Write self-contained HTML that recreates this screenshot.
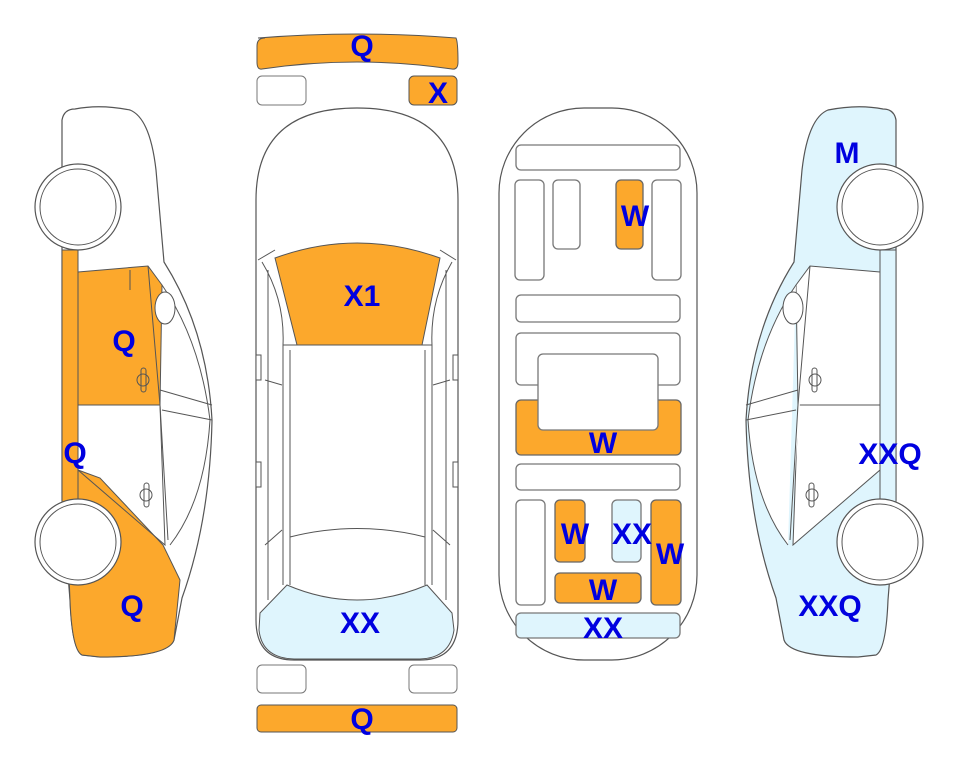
<!DOCTYPE html>
<html><head><meta charset="utf-8"><style>
html,body{margin:0;padding:0;background:#fff;}
svg{display:block;}
text{font-family:"Liberation Sans",Arial,sans-serif;font-weight:bold;font-size:30px;fill:#0000e0;text-anchor:middle;}
</style></head><body>
<svg width="963" height="768" viewBox="0 0 963 768" xmlns="http://www.w3.org/2000/svg">
<defs>
<g id="side">
  <path d="M75,109 Q100,104 130,110 Q150,118 156,170 L164,262 Q207,330 212,420 Q210,520 182,598 L174,640 Q168,657 100,657 L82,655 Q72,650 70,600 L62,500 L62,120 Q64,109 75,109 Z" fill="var(--body)" stroke="#555" stroke-width="1.2"/>
</g>
</defs>

<!-- LEFT CAR -->
<path d="M75,109 Q100,104 130,110 Q150,118 156,170 L164,262 Q207,330 212,420 Q210,520 182,598 L174,640 Q168,657 100,657 L82,655 Q72,650 70,600 L62,500 L62,120 Q64,109 75,109 Z" fill="#fff" stroke="#555" stroke-width="1.2"/>
<rect x="62" y="250" width="16" height="252" fill="#fca82c" stroke="#555" stroke-width="1"/>
<path d="M78,272 L148,266 L162,285 L160,405 L78,405 Z" fill="#fca82c" stroke="#555" stroke-width="1"/>
<path d="M78,470 L100,478 L163,545 L180,580 L174,640 Q168,657 100,657 L82,655 Q72,650 70,600 L66,502 L78,502 Z" fill="#fca82c" stroke="#555" stroke-width="1"/>
<path d="M78,405 L78,470 L165,545 L160,405" fill="none" stroke="#555" stroke-width="1"/>
<path d="M148,266 L160,405 L168,540 M162,285 Q200,340 210,420 Q205,500 170,545" fill="none" stroke="#555" stroke-width="1"/>
<path d="M160,390 L212,405 M162,410 L212,420 M130,290 L130,270" fill="none" stroke="#555" stroke-width="1"/>
<ellipse cx="165" cy="308" rx="10" ry="16" fill="#fff" stroke="#555"/>
<rect x="141" y="368" width="5" height="24" rx="2.5" fill="none" stroke="#555"/><circle cx="143" cy="380" r="6" fill="none" stroke="#555"/>
<rect x="144" y="483" width="5" height="24" rx="2.5" fill="none" stroke="#555"/><circle cx="146" cy="495" r="6" fill="none" stroke="#555"/>
<circle cx="78" cy="207" r="43" fill="#fff" stroke="#555" stroke-width="1.2"/>
<circle cx="78" cy="207" r="38" fill="none" stroke="#555" stroke-width="1"/>
<circle cx="78" cy="542" r="43" fill="#fff" stroke="#555" stroke-width="1.2"/>
<circle cx="78" cy="542" r="38" fill="none" stroke="#555" stroke-width="1"/>
<text x="124" y="351">Q</text><text x="75" y="463">Q</text><text x="132" y="616">Q</text>

<!-- RIGHT CAR (mirror) -->
<g transform="translate(958,0) scale(-1,1)">
<path d="M75,109 Q100,104 130,110 Q150,118 156,170 L164,262 Q207,330 212,420 Q210,520 182,598 L174,640 Q168,657 100,657 L82,655 Q72,650 70,600 L62,500 L62,120 Q64,109 75,109 Z" fill="#dff5fd" stroke="#555" stroke-width="1.2"/>
<rect x="62" y="250" width="16" height="252" fill="#dff5fd" stroke="#555" stroke-width="1"/>
<path d="M78,272 L148,266 L162,285 L160,405 L78,405 Z" fill="#fff" stroke="#555" stroke-width="1"/>
<path d="M78,405 L78,470 L165,545 L160,405 Z" fill="#fff" stroke="#555" stroke-width="1"/>
<path d="M148,266 L160,405 L168,540 M162,285 Q200,340 210,420 Q205,500 170,545" fill="#fff" stroke="#555" stroke-width="1"/>
<path d="M160,390 L212,405 M162,410 L212,420" fill="none" stroke="#555" stroke-width="1"/>
<ellipse cx="165" cy="308" rx="10" ry="16" fill="#fff" stroke="#555"/>
<rect x="141" y="368" width="5" height="24" rx="2.5" fill="none" stroke="#555"/><circle cx="143" cy="380" r="6" fill="none" stroke="#555"/>
<rect x="144" y="483" width="5" height="24" rx="2.5" fill="none" stroke="#555"/><circle cx="146" cy="495" r="6" fill="none" stroke="#555"/>
<circle cx="78" cy="207" r="43" fill="#fff" stroke="#555" stroke-width="1.2"/>
<circle cx="78" cy="207" r="38" fill="none" stroke="#555" stroke-width="1"/>
<circle cx="78" cy="542" r="43" fill="#fff" stroke="#555" stroke-width="1.2"/>
<circle cx="78" cy="542" r="38" fill="none" stroke="#555" stroke-width="1"/>
</g>
<text x="847" y="163">M</text><text x="890" y="464">XXQ</text><text x="830" y="616">XXQ</text>

<!-- TOP VIEW -->
<path d="M258,38 Q357,30 456,38 Q458,42 458,62 Q458,70 452,69 Q357,55 262,69 Q257,70 257,62 L257,46 Q257,38 265,38 Z" fill="#fca82c" stroke="#555"/>
<text x="362" y="56">Q</text>
<rect x="257" y="76" width="49" height="29" rx="5" fill="#fff" stroke="#777"/>
<rect x="409" y="76" width="48" height="29" rx="5" fill="#fca82c" stroke="#555"/>
<text x="438" y="103">X</text>
<path d="M256,620 L256,200 Q256,108 357,108 Q458,108 458,200 L458,620 Q458,660 420,660 L294,660 Q256,660 256,620 Z" fill="#fff" stroke="#555" stroke-width="1.2"/>
<path d="M260,613 L287,585 Q357,615 427,585 L452,613 L454,630 Q450,658 420,659 L294,659 Q262,658 259,630 Z" fill="#dff5fd" stroke="#555"/>
<path d="M275,258 Q357,228 440,258 L422,345 L297,345 Z" fill="#fca82c" stroke="#555"/>
<path d="M258,260 L275,250 M456,260 L440,250 M262,262 Q285,300 283,345 L283,585 M452,262 Q430,300 432,345 L432,585 M283,345 L297,345 M422,345 L432,345 M290,350 L290,585 M425,350 L425,585 M290,537 Q357,520 425,537 M268,270 L268,600 M446,270 L446,600 M265,380 L282,385 M450,380 L433,385 M265,545 L282,530 M450,545 L433,530" fill="none" stroke="#555" stroke-width="1"/>
<rect x="256" y="355" width="5" height="25" fill="#fff" stroke="#555"/><rect x="453" y="355" width="5" height="25" fill="#fff" stroke="#555"/>
<rect x="256" y="462" width="5" height="25" fill="#fff" stroke="#555"/><rect x="453" y="462" width="5" height="25" fill="#fff" stroke="#555"/>
<text x="362" y="306">X1</text>
<text x="360" y="633">XX</text>
<rect x="257" y="665" width="49" height="28" rx="5" fill="#fff" stroke="#777"/>
<rect x="409" y="665" width="48" height="28" rx="5" fill="#fff" stroke="#777"/>
<rect x="257" y="705" width="200" height="27" rx="4" fill="#fca82c" stroke="#555"/>
<text x="362" y="729">Q</text>

<!-- INTERIOR -->
<rect x="499" y="108" width="198" height="552" rx="85" fill="#fff" stroke="#555" stroke-width="1.2"/>
<g stroke="#777" stroke-width="1.3">
<rect x="516" y="145" width="164" height="25" rx="5" fill="#fff"/>
<rect x="515" y="180" width="29" height="100" rx="5" fill="#fff"/>
<rect x="553" y="180" width="27" height="69" rx="5" fill="#fff"/>
<rect x="616" y="180" width="27" height="69" rx="5" fill="#fca82c" stroke="#666"/>
<rect x="652" y="180" width="29" height="100" rx="5" fill="#fff"/>
<rect x="516" y="295" width="164" height="27" rx="5" fill="#fff"/>
<rect x="516" y="333" width="164" height="52" rx="5" fill="#fff"/>
<rect x="516" y="400" width="165" height="55" rx="5" fill="#fca82c" stroke="#666"/>
<rect x="538" y="354" width="120" height="76" rx="5" fill="#fff"/>
<rect x="516" y="464" width="164" height="26" rx="5" fill="#fff"/>
<rect x="516" y="500" width="29" height="105" rx="5" fill="#fff"/>
<rect x="555" y="500" width="30" height="62" rx="5" fill="#fca82c" stroke="#666"/>
<rect x="612" y="500" width="29" height="62" rx="5" fill="#dff5fd"/>
<rect x="651" y="500" width="30" height="105" rx="5" fill="#fca82c" stroke="#666"/>
<rect x="555" y="573" width="86" height="30" rx="5" fill="#fca82c" stroke="#666"/>
<rect x="516" y="613" width="164" height="25" rx="5" fill="#dff5fd"/>
</g>
<text x="635" y="226">W</text>
<text x="603" y="453">W</text>
<text x="575" y="544">W</text>
<text x="632" y="544">XX</text>
<text x="670" y="564">W</text>
<text x="603" y="600">W</text>
<text x="603" y="638">XX</text>
</svg>
</body></html>
